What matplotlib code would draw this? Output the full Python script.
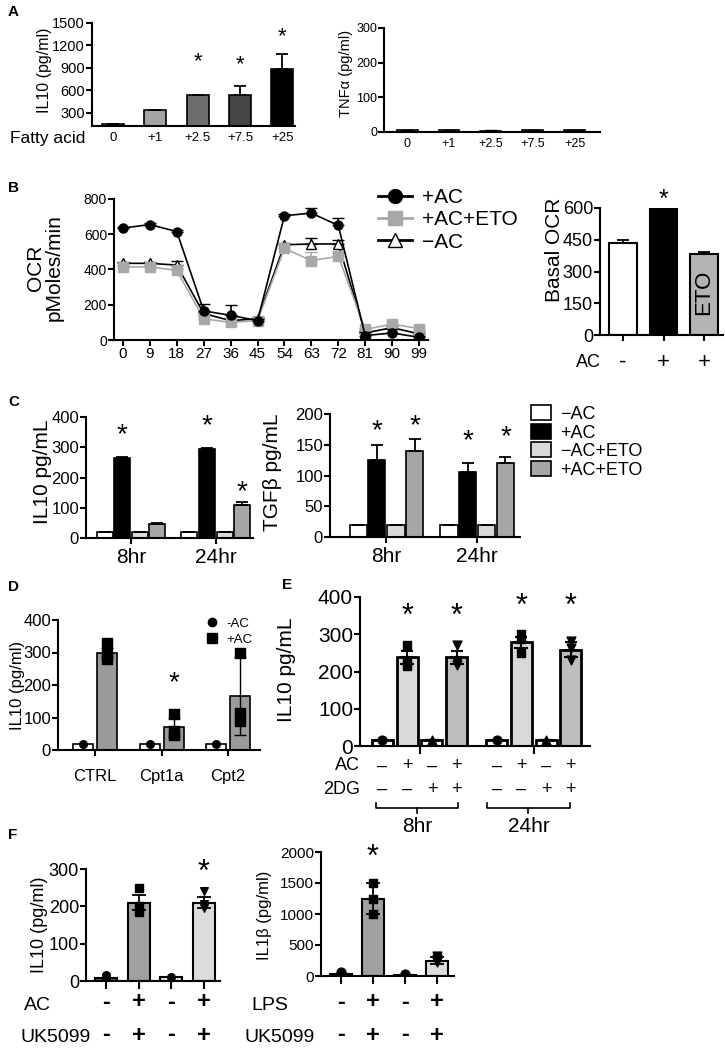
import numpy as np
import matplotlib.pyplot as plt
import matplotlib.transforms as mtransforms
from matplotlib.patches import Patch
from matplotlib.lines import Line2D

plt.rcParams['font.family'] = ['Liberation Sans', 'DejaVu Sans']

W, H = 725, 1050

'''Data read from the figure'''

# A - fatty acid dose
fa_labels = ['0', '+1', '+2.5', '+7.5', '+25']
il10_fa = [150, 330, 540, 530, 880]
il10_fa_err = [0, 0, 0, 120, 200]
tnf_fa = [5, 5, 4, 5, 5]
tnf_fa_err = [1, 1, 1, 2, 2]

# B - seahorse OCR
ocr_time = [0, 9, 18, 27, 36, 45, 54, 63, 72, 81, 90, 99]
ocr_ac = [635, 655, 615, 165, 140, 110, 705, 720, 650, 25, 40, 15]
ocr_ac_err = [8, 8, 8, 40, 60, 10, 10, 30, 45, 20, 20, 10]
ocr_eto = [415, 415, 395, 120, 100, 110, 520, 450, 475, 60, 90, 65]
ocr_eto_err = [10, 10, 15, 15, 10, 10, 20, 50, 20, 10, 15, 10]
ocr_noac = [435, 435, 425, 150, 110, 120, 540, 545, 545, 40, 70, 35]
ocr_noac_err = [8, 8, 25, 10, 10, 10, 10, 35, 20, 10, 10, 10]
basal_ac = ['-', '+', '+']
basal_ocr = [435, 600, 385]
basal_ocr_err = [15, 0, 5]

# C - IL10 / TGFb with etomoxir
c_groups = ['8hr', '24hr']
c_series = ['\u2212AC', '+AC', '\u2212AC+ETO', '+AC+ETO']
c_il10 = [[20, 20], [265, 295], [20, 20], [45, 110]]
c_il10_err = [[0, 0], [3, 3], [0, 0], [3, 8]]
c_tgfb = [[20, 20], [125, 105], [20, 20], [140, 120]]
c_tgfb_err = [[0, 0], [25, 15], [0, 0], [20, 10]]

# D - Cpt knockdown
d_groups = ['CTRL', 'Cpt1a', 'Cpt2']
d_noac = [18, 18, 18]
d_ac = [300, 70, 165]
d_ac_err = [15, 30, 120]
d_ac_pts = [[330, 295, 280], [110, 60, 45], [300, 115, 90]]

# E - 2DG
e_ac = ['\u2013', '+', '\u2013', '+', '\u2013', '+', '\u2013', '+']
e_2dg = ['\u2013', '\u2013', '+', '+', '\u2013', '\u2013', '+', '+']
e_il10 = [15, 238, 15, 238, 15, 278, 15, 258]
e_il10_err = [0, 17, 0, 17, 0, 15, 0, 20]
e_pts = [[15], [272, 225, 215], [15], [270, 225, 218],
         [15], [300, 288, 250], [15], [282, 262, 230]]
e_times = ['8hr', '24hr']

# F - UK5099
f_ac = ['-', '+', '-', '+']
f_uk = ['-', '+', '-', '+']
f_il10 = [7, 210, 10, 210]
f_il10_err = [0, 20, 0, 15]
f_il10_pts = [[15, 5, 3], [250, 200, 185], [10], [240, 205, 195]]
f_il1b = [30, 1250, 20, 250]
f_il1b_err = [0, 250, 0, 60]
f_il1b_pts = [[60, 25, 10], [1500, 1250, 1000], [30, 10], [330, 280, 230]]

fig = plt.figure(figsize=(W / 100, H / 100), dpi=100)


def axbox(l, r, t, b, fs):
    ax = fig.add_axes([l / W, 1 - b / H, (r - l) / W, (b - t) / H])
    ax.spines['top'].set_visible(False)
    ax.spines['right'].set_visible(False)
    ax.spines['left'].set_linewidth(1.5)
    ax.spines['bottom'].set_linewidth(1.5)
    ax.tick_params(width=1.5, length=4, labelsize=fs, pad=1)
    return ax


def ftext(x, y, s, **kw):
    fig.text(x / W, 1 - y / H, s, **kw)


def under(ax, x, y, s, **kw):
    tr = mtransforms.blended_transform_factory(ax.transData, fig.transFigure)
    ax.text(x, 1 - y / H, s, transform=tr, ha='center', va='center', clip_on=False, **kw)


def upper_err(ax, x, y, e, lw=1.3):
    ax.errorbar(x, y, yerr=[np.zeros(len(e)), e], fmt='none', ecolor='k',
                elinewidth=lw, capsize=4, capthick=lw)


# panel letters
for lab, x, y in [('A', 8, 12), ('B', 8, 188), ('C', 8, 402), ('D', 8, 587), ('E', 282, 585), ('F', 8, 835)]:
    ftext(x, y, lab, fontsize=11, fontweight='bold', ha='left', va='center')

# ---------- A left ----------
ax = axbox(92, 295, 23, 126, 10.5)
xa = np.arange(len(fa_labels))
acol = ['#cfcfcf', '#a3a3a3', '#6e6e6e', '#444444', '#000000']
ax.bar(xa, il10_fa, width=0.52, color=acol, edgecolor='k', linewidth=1.2)
upper_err(ax, xa, il10_fa, il10_fa_err)
ax.set_ylim(120, 1500)
ax.set_xlim(-0.5, 4.3)
ax.set_yticks([300, 600, 900, 1200, 1500])
ax.set_xticks(xa)
ax.set_xticklabels(fa_labels, fontsize=9.5)
ax.tick_params(axis='x', length=0, pad=4)
for i, v in [(2, 975), (3, 940), (4, 1310)]:
    ax.text(i, v, '*', ha='center', va='center', fontsize=16)
ftext(45, 70, 'IL10 (pg/ml)', rotation=90, fontsize=11.5, ha='center', va='center')
ftext(10, 138, 'Fatty acid', fontsize=12.5, ha='left', va='center')

# ---------- A right ----------
ax = axbox(384, 600, 28, 132, 9)
ax.bar(xa, tnf_fa, width=0.5, color=acol, edgecolor='k', linewidth=1.2)
upper_err(ax, xa, tnf_fa, tnf_fa_err, lw=1)
ax.set_ylim(0, 300)
ax.set_xlim(-0.55, 4.6)
ax.set_yticks([0, 100, 200, 300])
ax.set_xticks(xa)
ax.set_xticklabels(fa_labels, fontsize=9)
ax.tick_params(axis='x', length=0, pad=4)
ftext(346, 73, 'TNF\u03b1 (pg/ml)', rotation=90, fontsize=10.5, ha='center', va='center')

# ---------- B line ----------
ax = axbox(114, 428, 199, 340, 10)
ax.errorbar(ocr_time, ocr_noac, yerr=[np.zeros(12), ocr_noac_err], color='k', lw=1.2,
            marker='^', ms=7, mfc='white', mec='k', capsize=4, elinewidth=1.2, zorder=2)
ax.errorbar(ocr_time, ocr_eto, yerr=[np.zeros(12), ocr_eto_err], color='#a8a8a8', lw=1.2,
            marker='s', ms=7, mfc='#a8a8a8', mec='#a8a8a8', ecolor='#a8a8a8', capsize=4,
            elinewidth=1.2, zorder=3)
ax.errorbar(ocr_time, ocr_ac, yerr=[np.zeros(12), ocr_ac_err], color='k', lw=1.2,
            marker='o', ms=6.5, mfc='k', mec='k', capsize=4, elinewidth=1.2, zorder=4)
ax.set_xlim(-3, 102)
ax.set_ylim(0, 800)
ax.set_xticks(ocr_time)
ax.set_yticks([0, 200, 400, 600, 800])
ax.tick_params(axis='x', labelsize=11)
ftext(45, 268, 'OCR\npMoles/min', rotation=90, fontsize=15, ha='center', va='center',
      linespacing=1.0)
handles = [Line2D([], [], color='k', lw=2, marker='o', ms=10),
           Line2D([], [], color='#a8a8a8', lw=2, marker='s', ms=10),
           Line2D([], [], color='k', lw=2, marker='^', ms=10, mfc='white')]
fig.legend(handles, ['+AC', '+AC+ETO', '\u2212AC'], loc='upper left',
           bbox_to_anchor=(370 / W, 1 - 180 / H), frameon=False, fontsize=15,
           handlelength=1.6, labelspacing=0.15, handletextpad=0.5, borderaxespad=0)

# ---------- B basal ----------
ax = axbox(600, 723, 208, 335, 13)
xb = np.arange(3)
ax.bar(xb, basal_ocr, width=0.69, color=['white', 'black', '#b3b3b3'], edgecolor='k', linewidth=1.5)
upper_err(ax, xb, basal_ocr, basal_ocr_err)
ax.set_xlim(-0.57, 2.47)
ax.set_ylim(0, 600)
ax.set_yticks([0, 150, 300, 450, 600])
ax.set_xticks(xb)
ax.set_xticklabels([])
ax.text(1, 640, '*', ha='center', va='center', fontsize=18, clip_on=False)
ax.text(2, 200, 'ETO', rotation=90, ha='center', va='center', fontsize=16)
ftext(555, 250, 'Basal OCR', rotation=90, fontsize=15, ha='center', va='center')
ftext(588, 363, 'AC', fontsize=13, ha='center', va='center')
for i, s in enumerate(basal_ac):
    under(ax, i, 362, s, fontsize=16)

# ---------- C ----------
ccol = ['white', 'black', '#d9d9d9', '#a6a6a6']
offs = [-0.31, -0.105, 0.105, 0.31]


def cpanel(l, r, t, b, vals, errs, ymax, yt, xl, xr, stars, label, lx):
    ax = axbox(l, r, t, b, 12)
    xg = np.arange(2)
    for k in range(4):
        ax.bar(xg + offs[k], vals[k], width=0.19, color=ccol[k], edgecolor='k', linewidth=1.2)
        upper_err(ax, xg + offs[k], vals[k], errs[k])
    ax.set_ylim(0, ymax)
    ax.set_yticks(yt)
    ax.set_xlim(xl, xr)
    ax.set_xticks(xg)
    ax.set_xticklabels(c_groups, fontsize=15)
    ax.tick_params(axis='x', pad=3)
    for k, g, v in stars:
        ax.text(g + offs[k], v, '*', ha='center', va='center', fontsize=20)
    ftext(lx, 472, label, rotation=90, fontsize=15, ha='center', va='center')
    return ax


cpanel(86, 253, 417, 538, c_il10, c_il10_err, 400, [0, 100, 200, 300, 400], -0.53, 1.44,
       [(1, 0, 340), (1, 1, 370), (3, 1, 150)], 'IL10 pg/mL', 42)
cpanel(330, 520, 414, 537, c_tgfb, c_tgfb_err, 200, [0, 50, 100, 150, 200], -0.62, 1.47,
       [(1, 0, 172), (3, 0, 180), (1, 1, 155), (3, 1, 162)], 'TGF\u03b2 pg/mL', 272)
fig.legend([Patch(facecolor=c, edgecolor='k', linewidth=1.2) for c in ccol], c_series,
           loc='upper left', bbox_to_anchor=(524 / W, 1 - 398 / H), frameon=False,
           fontsize=13, handlelength=1.1, handleheight=0.9, labelspacing=0.05,
           handletextpad=0.5, borderaxespad=0)

# ---------- D ----------
ax = axbox(58, 260, 620, 750, 12)
xd = np.arange(3)
ax.bar(xd - 0.18, d_noac, width=0.3, color='white', edgecolor='k', linewidth=1.2)
ax.bar(xd + 0.18, d_ac, width=0.3, color='#9a9a9a', edgecolor='k', linewidth=1.2)
ax.errorbar(xd + 0.18, d_ac, yerr=d_ac_err, fmt='none', ecolor='k', elinewidth=1,
            capsize=4, capthick=1)
ax.scatter(xd - 0.18, d_noac, marker='o', s=30, color='k', zorder=3)
for i, pts in enumerate(d_ac_pts):
    ax.scatter([xd[i] + 0.18] * len(pts), pts, marker='s', s=45, color='k', zorder=3)
ax.set_xlim(-0.56, 2.48)
ax.set_ylim(0, 400)
ax.set_yticks([0, 100, 200, 300, 400])
ax.set_xticks(xd)
ax.set_xticklabels(d_groups, fontsize=12)
ax.tick_params(axis='x', pad=10)
ax.text(1.18, 205, '*', ha='center', va='center', fontsize=20)
ftext(18, 685, 'IL10 (pg/ml)', rotation=90, fontsize=12, ha='center', va='center')
ax.legend([Line2D([], [], ls='none', marker='o', color='k', ms=6),
           Line2D([], [], ls='none', marker='s', color='k', ms=7)], ['-AC', '+AC'],
          loc='upper left', bbox_to_anchor=(200 / W, 1 - 612 / H), bbox_transform=fig.transFigure,
          frameon=False, fontsize=9.5, handlelength=1, labelspacing=0.3, borderaxespad=0,
          handletextpad=0.6)

# ---------- E ----------
ax = axbox(360, 590, 597, 746, 15)
xe = np.array([0, 1, 2, 3, 4.62, 5.62, 6.62, 7.62])
ecol = ['white', '#d9d9d9', 'white', '#bdbdbd'] * 2
emark = ['o', 's', '^', 'v'] * 2
ax.bar(xe, e_il10, width=0.85, color=ecol, edgecolor='k', linewidth=2)
upper_err(ax, xe, e_il10, e_il10_err, lw=1.5)
ax.errorbar(xe, e_il10, yerr=[e_il10_err, np.zeros(8)], fmt='none', ecolor='k',
            elinewidth=1.5, capsize=5, capthick=1.5)
for i, pts in enumerate(e_pts):
    ax.scatter([xe[i]] * len(pts), pts, marker=emark[i], s=40, color='k', zorder=3)
ax.set_xlim(-0.91, 8.4)
ax.set_ylim(0, 400)
ax.set_yticks([0, 100, 200, 300, 400])
ax.set_xticks([1.5, 6.12])
ax.set_xticklabels([])
ax.tick_params(axis='x', length=6)
for i, v in [(1, 346), (3, 346), (5, 373), (7, 373)]:
    ax.text(xe[i], v, '*', ha='center', va='center', fontsize=22)
ftext(287, 670, 'IL10 pg/mL', rotation=90, fontsize=15, ha='center', va='center')
ftext(347, 766, 'AC', fontsize=13, ha='center', va='center')
ftext(342, 789, '2DG', fontsize=13, ha='center', va='center')
for i in range(8):
    under(ax, xe[i], 766, e_ac[i], fontsize=13)
    under(ax, xe[i], 789, e_2dg[i], fontsize=13)
tr = mtransforms.blended_transform_factory(ax.transData, fig.transFigure)
for (a, b2), lab in zip([(-0.26, 3.06), (4.23, 7.59)], e_times):
    m = (a + b2) / 2
    yb = 1 - 808 / H
    ax.plot([a, a, b2, b2], [yb + 5 / H, yb, yb, yb + 5 / H], color='k', lw=1.2,
            transform=tr, clip_on=False)
    ax.plot([m, m], [yb, yb - 5 / H], color='k', lw=1.2, transform=tr, clip_on=False)
    under(ax, m, 826, lab, fontsize=15)

# ---------- F left ----------
fcol = ['#5a5a5a', '#a0a0a0', '#e6e6e6', '#dcdcdc']
fmark = ['o', 's', 'o', 'v']
xf = np.arange(4)
ax = axbox(86, 220, 869, 981, 13)
ax.bar(xf, f_il10, width=0.67, color=fcol, edgecolor='k', linewidth=1.5)
ax.errorbar(xf, f_il10, yerr=f_il10_err, fmt='none', ecolor='k', elinewidth=1.3,
            capsize=5, capthick=1.3)
for i, pts in enumerate(f_il10_pts):
    ax.scatter([xf[i]] * len(pts), pts, marker=fmark[i], s=30, color='k', zorder=3)
ax.set_xlim(-0.61, 3.49)
ax.set_ylim(0, 300)
ax.set_yticks([0, 100, 200, 300])
ax.set_xticks(xf)
ax.set_xticklabels([])
ax.tick_params(axis='x', length=6)
ax.text(3, 290, '*', ha='center', va='center', fontsize=22)
ftext(40, 925, 'IL10 (pg/ml)', rotation=90, fontsize=13, ha='center', va='center')
ftext(37, 1005, 'AC', fontsize=14, ha='center', va='center')
ftext(56, 1037, 'UK5099', fontsize=14, ha='center', va='center')
for i in range(4):
    under(ax, xf[i], 1002, f_ac[i], fontsize=17, fontweight='bold')
    under(ax, xf[i], 1035, f_uk[i], fontsize=17, fontweight='bold')

# ---------- F right ----------
ax = axbox(321, 454, 852, 976, 11)
ax.bar(xf, f_il1b, width=0.69, color=fcol, edgecolor='k', linewidth=1.5)
ax.errorbar(xf, f_il1b, yerr=f_il1b_err, fmt='none', ecolor='k', elinewidth=1.3,
            capsize=5, capthick=1.3)
for i, pts in enumerate(f_il1b_pts):
    ax.scatter([xf[i]] * len(pts), pts, marker=fmark[i], s=40, color='k', zorder=3)
ax.set_xlim(-0.62, 3.53)
ax.set_ylim(0, 2000)
ax.set_yticks([0, 500, 1000, 1500, 2000])
ax.set_xticks(xf)
ax.set_xticklabels([])
ax.tick_params(axis='x', length=6)
ax.text(1, 1900, '*', ha='center', va='center', fontsize=22)
ftext(265, 915, 'IL1\u03b2 (pg/ml)', rotation=90, fontsize=12, ha='center', va='center')
ftext(270, 1005, 'LPS', fontsize=14, ha='center', va='center')
ftext(280, 1037, 'UK5099', fontsize=14, ha='center', va='center')
for i in range(4):
    under(ax, xf[i], 1002, f_ac[i], fontsize=17, fontweight='bold')
    under(ax, xf[i], 1035, f_uk[i], fontsize=17, fontweight='bold')

plt.savefig('out.png', dpi=100)
